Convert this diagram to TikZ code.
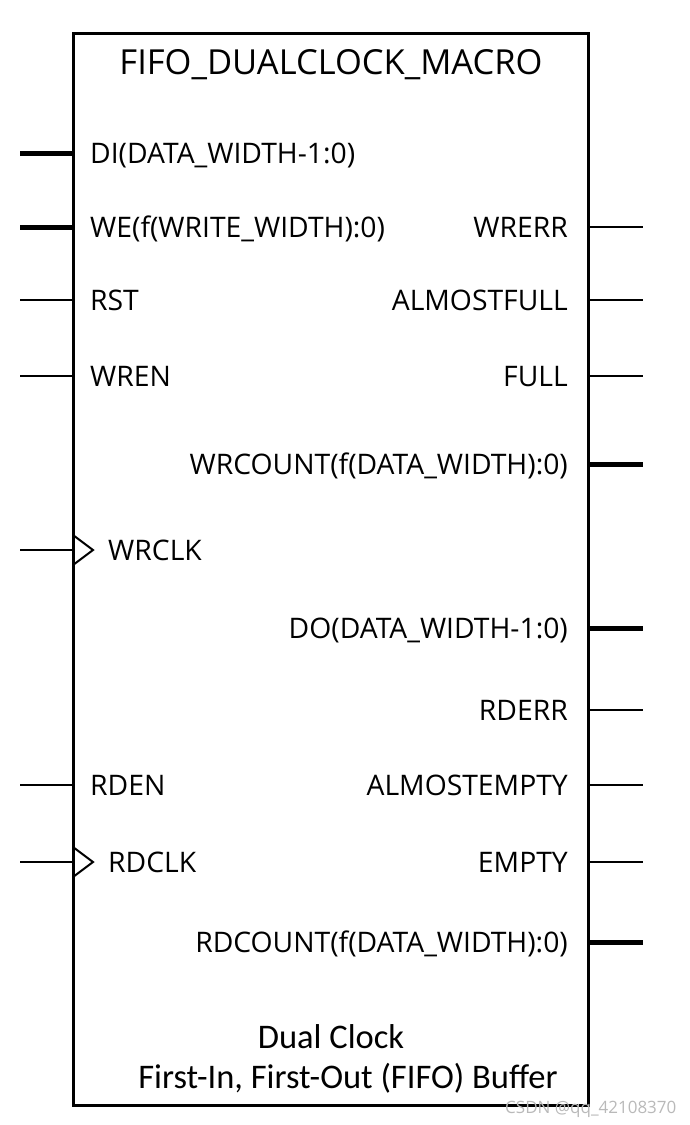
\documentclass[tikz,border=0pt]{standalone}
\usepackage{fontspec}
\setmainfont{Open Sans}
\newfontfamily\notefont{Carlito}
\usetikzlibrary{positioning,calc}
\newcommand{\pinfont}{\fontsize{28.3}{33}\selectfont}
\newcommand{\titlefont}{\fontsize{34.5}{40}\selectfont}
\newcommand{\capfont}{\notefont\fontsize{34.5}{40}\selectfont}
\tikzstyle{chip}=[draw, rectangle, line width=3pt, inner sep=0pt, outer sep=0pt, minimum width=515pt, minimum height=1072pt]
\tikzstyle{lpin}=[anchor=base west, inner sep=0pt, font=\pinfont]
\tikzstyle{rpin}=[anchor=base east, inner sep=0pt, font=\pinfont]
\tikzstyle{wire}=[line width=1.3pt]
\tikzstyle{bus}=[line width=5pt]
\tikzstyle{clk}=[line width=2pt, line join=miter]

\begin{document}
\begin{tikzpicture}[x=1pt, y=-1pt]
      \useasboundingbox (0,0) rectangle (689,1125);
      \node[chip] (fifo) at (330.5,569) {};
      \node[font=\titlefont, anchor=base, inner sep=0pt] (title) at (331,74) {FIFO\_DUALCLOCK\_MACRO};
      % inputs
      \coordinate (diin) at (20,153);
      \coordinate (wein) at (20,227);
      \coordinate (rstin) at (20,300);
      \coordinate (wrenin) at (20,376);
      \coordinate (wrclkin) at (20,550);
      \coordinate (rdenin) at (20,785);
      \coordinate (rdclkin) at (20,862);
      \node[lpin] (di) at (90,163) {DI(DATA\_WIDTH-1:0)};
      \node[lpin] (we) at (90,237) {WE(f(WRITE\_WIDTH):0)};
      \node[lpin] (rst) at (90,310) {RST};
      \node[lpin] (wren) at (90,386) {WREN};
      \node[lpin] (wrclk) at (108,560) {WRCLK};
      \node[lpin] (rden) at (90,795) {RDEN};
      \node[lpin] (rdclk) at (108,872) {RDCLK};
      \draw[bus] (diin) -- (diin -| fifo.west);
      \draw[bus] (wein) -- (wein -| fifo.west);
      \draw[wire] (rstin) -- (rstin -| fifo.west);
      \draw[wire] (wrenin) -- (wrenin -| fifo.west);
      \draw[wire] (wrclkin) -- (wrclkin -| fifo.west);
      \draw[wire] (rdenin) -- (rdenin -| fifo.west);
      \draw[wire] (rdclkin) -- (rdclkin -| fifo.west);
      \draw[clk] (wrclkin -| fifo.west) ++(0,-15) -- ++(20,15) -- ++(-20,15);
      \draw[clk] (rdclkin -| fifo.west) ++(0,-15) -- ++(20,15) -- ++(-20,15);
      % outputs
      \coordinate (wrerrout) at (643,227);
      \coordinate (afullout) at (643,300);
      \coordinate (fullout) at (643,376);
      \coordinate (wrcntout) at (643,464);
      \coordinate (doout) at (643,628);
      \coordinate (rderrout) at (643,710);
      \coordinate (aemptyout) at (643,785);
      \coordinate (emptyout) at (643,862);
      \coordinate (rdcntout) at (643,942);
      \node[rpin] (wrerr) at (568,237) {WRERR};
      \node[rpin] (afull) at (568,310) {ALMOSTFULL};
      \node[rpin] (full) at (568,386) {FULL};
      \node[rpin] (wrcnt) at (568,474) {WRCOUNT(f(DATA\_WIDTH):0)};
      \node[rpin] (do) at (568,638) {DO(DATA\_WIDTH-1:0)};
      \node[rpin] (rderr) at (568,720) {RDERR};
      \node[rpin] (aempty) at (568,795) {ALMOSTEMPTY};
      \node[rpin] (empty) at (568,872) {EMPTY};
      \node[rpin] (rdcnt) at (568,952) {RDCOUNT(f(DATA\_WIDTH):0)};
      \draw[wire] (wrerrout -| fifo.east) -- (wrerrout);
      \draw[wire] (afullout -| fifo.east) -- (afullout);
      \draw[wire] (fullout -| fifo.east) -- (fullout);
      \draw[bus] (wrcntout -| fifo.east) -- (wrcntout);
      \draw[bus] (doout -| fifo.east) -- (doout);
      \draw[wire] (rderrout -| fifo.east) -- (rderrout);
      \draw[wire] (aemptyout -| fifo.east) -- (aemptyout);
      \draw[wire] (emptyout -| fifo.east) -- (emptyout);
      \draw[bus] (rdcntout -| fifo.east) -- (rdcntout);
      % caption
      \node[font=\capfont, anchor=base, inner sep=0pt] (cap1) at (331,1048) {Dual Clock};
      \node[font=\capfont, anchor=base, inner sep=0pt] (cap2) at (348,1088) {First-In, First-Out (FIFO) Buffer};
      \node[font=\fontsize{17}{20}\selectfont, text=gray!55, anchor=base west, inner sep=0pt] (mark) at (505,1113) {CSDN @qq\_42108370};
\end{tikzpicture}
\end{document}
